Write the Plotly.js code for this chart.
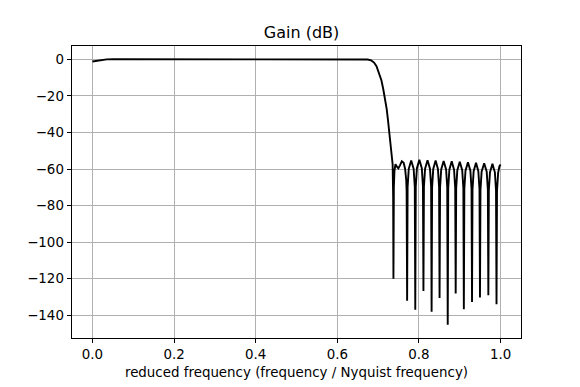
<!DOCTYPE html>
<html>
<head>
<meta charset="utf-8">
<script src="https://cdn.plot.ly/plotly-3.0.1.min.js"></script>
<style>
html,body{margin:0;padding:0;background:#fff;}
#chart{width:580px;height:387px;}
</style>
</head>
<body>
<div id="chart"></div>
<script>
// Reduced frequency (frequency / Nyquist frequency)
const passbandFreq = [0.0, 0.012, 0.024, 0.035, 0.05, 0.3, 0.66, 0.674, 0.683, 0.690, 0.696, 0.702, 0.708, 0.7126, 0.717, 0.721, 0.724, 0.7265, 0.7295, 0.732, 0.734, 0.7355, 0.7368];
const passbandGain = [-1.2, -0.7, -0.3, -0.05, 0.0, 0.0, 0.0, -0.1, -0.6, -1.8, -3.8, -7.3, -11.5, -16.4, -21.5, -27.3, -33.0, -38.3, -44.0, -49.2, -54.0, -57.4, -75.0];

const stopbandFreq = [
  0.7375, 0.7385, 0.740, 0.7425, 0.7455, 0.7495, 0.7535, 0.758, 0.7625, 0.766, 0.7688, 0.7698,
  0.771, 0.7722, 0.775, 0.781, 0.787, 0.7898,
  0.791, 0.7922, 0.795, 0.801, 0.807, 0.8098,
  0.811, 0.8122, 0.815, 0.821, 0.827, 0.8298,
  0.831, 0.8322, 0.835, 0.8408, 0.8465, 0.8493,
  0.8505, 0.8517, 0.8545, 0.8605, 0.8665, 0.8693,
  0.8705, 0.8717, 0.8745, 0.8803, 0.886, 0.8888,
  0.890, 0.8912, 0.894, 0.900, 0.906, 0.9088,
  0.910, 0.9112, 0.914, 0.920, 0.926, 0.9288,
  0.930, 0.9312, 0.934, 0.9398, 0.9455, 0.9483,
  0.9495, 0.9507, 0.9535, 0.9598, 0.966, 0.9688,
  0.970, 0.9712, 0.974, 0.980, 0.986, 0.9888,
  0.990, 0.9912, 0.994, 0.997, 1.0
];
const stopbandGain = [
  -120.0, -70.0, -61.0, -57.4, -58.6, -59.6, -58.0, -55.8, -56.6, -59.8, -66.0, -72.0,
  -132.0, -69.8, -59.9, -55.3, -59.9, -69.8,
  -137.0, -69.5, -59.6, -55.0, -59.6, -69.5,
  -126.7, -69.7, -59.8, -55.2, -59.8, -69.7,
  -138.0, -69.9, -60.0, -55.4, -60.0, -69.9,
  -130.5, -70.1, -60.2, -55.6, -60.2, -70.1,
  -145.1, -70.3, -60.4, -55.8, -60.4, -70.3,
  -128.0, -70.5, -60.6, -56.0, -60.6, -70.5,
  -136.7, -70.8, -60.9, -56.3, -60.9, -70.8,
  -132.7, -71.1, -61.2, -56.6, -61.2, -71.1,
  -130.3, -71.4, -61.5, -56.9, -61.5, -71.4,
  -129.0, -71.7, -61.8, -57.2, -61.8, -71.7,
  -134.0, -72.0, -62.1, -58.6, -57.5
];

const xTickVals = [0.0, 0.2, 0.4, 0.6, 0.8, 1.0];
const xTickText = ["0.0", "0.2", "0.4", "0.6", "0.8", "1.0"];
const yTickVals = [0, -20, -40, -60, -80, -100, -120, -140];
const yTickText = ["0", "\u221220", "\u221240", "\u221260", "\u221280", "\u2212100", "\u2212120", "\u2212140"];

const freq = passbandFreq.concat(stopbandFreq);
const gain = passbandGain.concat(stopbandGain);

const FONT = "DejaVu Sans, Liberation Sans, sans-serif";

const trace = {
  x: freq, y: gain, type: 'scatter', mode: 'lines',
  line: {color: '#000000', width: 1.9},
  hoverinfo: 'skip'
};

const axisCommon = {
  showline: true, linecolor: '#000000', linewidth: 1, mirror: true,
  ticks: 'outside', ticklen: 4.4, tickwidth: 1, tickcolor: '#000000',
  showgrid: true, gridcolor: '#b0b0b0', gridwidth: 1,
  zeroline: false, automargin: false,
  tickfont: {family: FONT, size: 13.4, color: '#000000'}
};

const layout = {
  width: 580, height: 387,
  margin: {l: 72, r: 59, t: 46, b: 49, pad: 0},
  paper_bgcolor: '#ffffff', plot_bgcolor: '#ffffff',
  showlegend: false,
  font: {family: FONT, size: 13.4, color: '#000000'},
  title: {
    text: 'Gain (dB)', font: {family: FONT, size: 16, color: '#000000'},
    x: 0.5113, xref: 'paper', xanchor: 'center',
    y: 1 - 32 / 387, yref: 'container', yanchor: 'middle'
  },
  xaxis: Object.assign({}, axisCommon, {
    range: [-0.05, 1.05], tickmode: 'array', tickvals: xTickVals, ticktext: xTickText,
    title: {text: 'reduced frequency (frequency / Nyquist frequency)',
            font: {family: FONT, size: 13.4, color: '#000000'}, standoff: 6}
  }),
  yaxis: Object.assign({}, axisCommon, {
    range: [-152.4, 7.26], tickmode: 'array', tickvals: yTickVals, ticktext: yTickText
  })
};

Plotly.newPlot('chart', [trace], layout, {staticPlot: true, displayModeBar: false});
</script>
</body>
</html>
